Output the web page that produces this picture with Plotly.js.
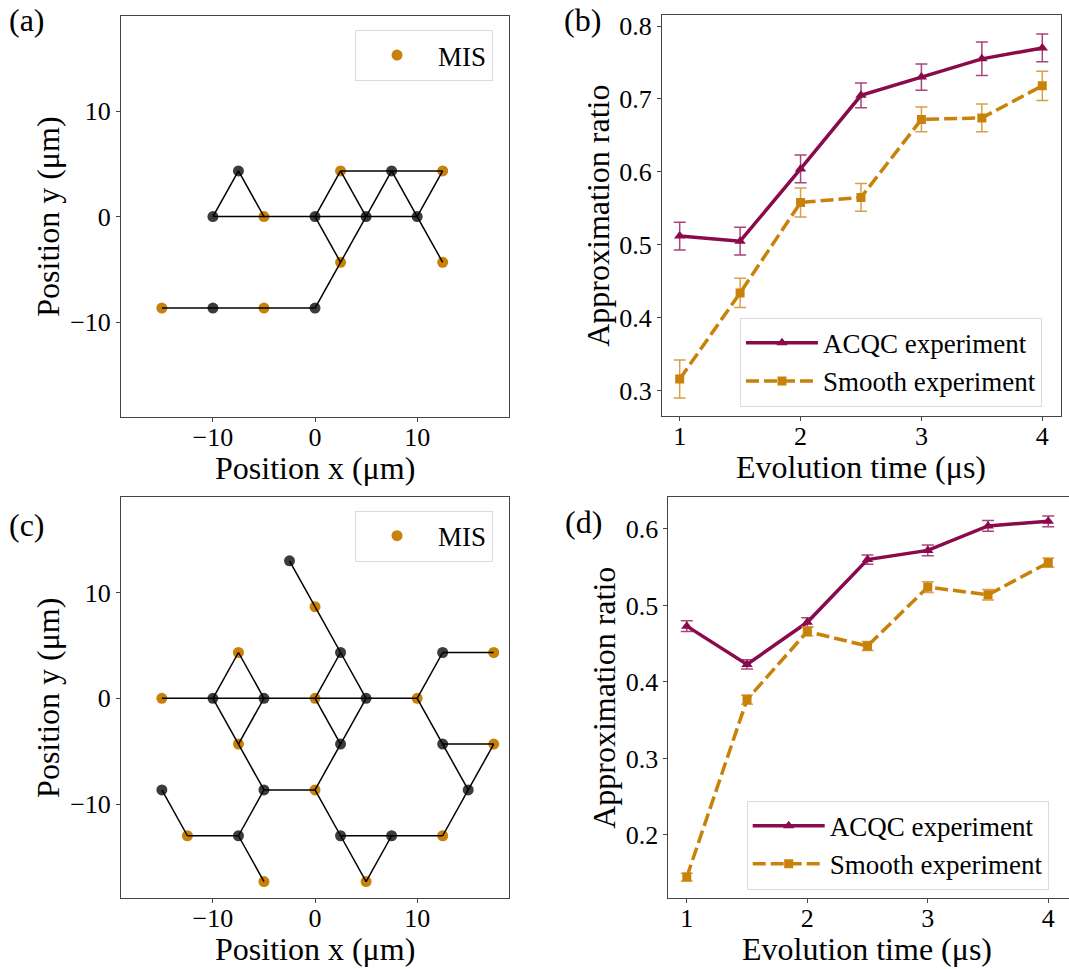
<!DOCTYPE html>
<html><head><meta charset="utf-8">
<script src="https://cdn.plot.ly/plotly-3.0.1.min.js"></script>
<style>body{margin:0;background:#fff}#g{width:1069px;height:969px}</style>
</head><body><div id="g"></div><script>
// ---- Panel (a) graph ----
const nodesA_x = [-15,-10,-5,0,-10,-7.5,-5,0,2.5,5,7.5,10,12.5,2.5,12.5];
const nodesA_y = [-8.66,-8.66,-8.66,-8.66,0,4.33,0,0,4.33,0,4.33,0,4.33,-4.33,-4.33];
const misA     = [1,0,1,0,0,0,1,0,1,0,0,0,1,1,1];
const edgesA = [[0,1],[1,2],[2,3],[3,13],[13,7],[13,9],[4,5],[5,6],[4,6],[6,7],[7,9],[9,11],
                [7,8],[8,9],[9,10],[10,11],[11,12],[8,10],[10,12],[11,14]];
// ---- Panel (c) graph ----
const nodesC_x = [-2.5,0,2.5,-7.5,12.5,17.5,-15,-10,-5,0,5,10,-7.5,2.5,12.5,17.5,-15,-5,0,15,-12.5,-7.5,2.5,7.5,12.5,-5,5];
const nodesC_y = [12.99,8.66,4.33,4.33,4.33,4.33,0,0,0,0,0,0,-4.33,-4.33,-4.33,-4.33,-8.66,-8.66,-8.66,-8.66,-12.99,-12.99,-12.99,-12.99,-12.99,-17.32,-17.32];
const misC     = [0,1,0,1,0,1,1,0,0,1,0,1,1,0,0,1,0,0,1,0,1,0,0,0,1,1,1];
const edgesC = [[0,1],[1,2],[2,9],[2,10],[6,7],[7,8],[8,9],[9,10],[10,11],
                [7,3],[3,8],[7,12],[12,8],[12,17],[9,13],[13,10],[13,18],[17,18],[17,21],
                [16,20],[20,21],[21,25],[18,22],[22,23],[23,24],[22,26],[26,23],
                [11,4],[4,5],[11,14],[14,15],[14,19],[19,15],[19,24]];
// ---- Panel (b) data ----
const timeB = [1,1.5,2,2.5,3,3.5,4];
const acqcB = [0.512,0.505,0.604,0.705,0.730,0.755,0.770];
const acqcB_err = [0.019,0.019,0.019,0.017,0.018,0.023,0.019];
const smoothB = [0.316,0.434,0.558,0.565,0.672,0.674,0.718];
const smoothB_err = [0.026,0.020,0.020,0.019,0.017,0.019,0.020];
// ---- Panel (d) data ----
const timeD = [1,1.5,2,2.5,3,3.5,4];
const acqcD = [0.473,0.423,0.478,0.560,0.572,0.604,0.610];
const acqcD_err = [0.007,0.006,0.006,0.006,0.007,0.007,0.007];
const smoothD = [0.145,0.377,0.466,0.447,0.524,0.514,0.556];
const smoothD_err = [0.005,0.006,0.006,0.006,0.007,0.007,0.006];

const ORANGE = '#c8820a', GRAY = '#3c3c3c', MAROON = '#8a0a4c';
const FONT = 'Liberation Serif, Times New Roman, serif';

function graphTraces(nx, ny, mis, edges, xa, ya, leg) {
  const ex = [], ey = [];
  edges.forEach(([i, j]) => { ex.push(nx[i], nx[j], null); ey.push(ny[i], ny[j], null); });
  const gx = nx.filter((_, i) => !mis[i]), gy = ny.filter((_, i) => !mis[i]);
  const ox = nx.filter((_, i) => mis[i]),  oy = ny.filter((_, i) => mis[i]);
  return [
    {x: gx, y: gy, xaxis: xa, yaxis: ya, mode: 'markers', type: 'scatter', showlegend: false,
     marker: {color: GRAY, size: 11}},
    {x: ox, y: oy, xaxis: xa, yaxis: ya, mode: 'markers', type: 'scatter', name: 'MIS', legend: leg,
     marker: {color: ORANGE, size: 11}},
    {x: ex, y: ey, xaxis: xa, yaxis: ya, mode: 'lines', type: 'scatter', showlegend: false,
     line: {color: '#000', width: 1.5}}
  ];
}
function seriesTraces(t, a, ae, s, se, xa, ya, leg) {
  return [
    {x: t, y: a, xaxis: xa, yaxis: ya, type: 'scatter', mode: 'lines+markers', name: 'ACQC experiment', legend: leg,
     line: {color: MAROON, width: 3.5}, marker: {symbol: 'triangle-up', size: 10, color: MAROON},
     error_y: {type: 'data', array: ae, visible: true, color: '#a8457a', thickness: 1.5, width: 6}},
    {x: t, y: s, xaxis: xa, yaxis: ya, type: 'scatter', mode: 'lines+markers', name: 'Smooth experiment', legend: leg,
     line: {color: ORANGE, width: 3.5, dash: '13px,5px'}, marker: {symbol: 'square', size: 9, color: ORANGE},
     error_y: {type: 'data', array: se, visible: true, color: '#d9a04a', thickness: 1.5, width: 6}}
  ];
}

const data = [
  ...graphTraces(nodesA_x, nodesA_y, misA, edgesA, 'x', 'y', 'legend'),
  ...seriesTraces(timeB, acqcB, acqcB_err, smoothB, smoothB_err, 'x2', 'y2', 'legend2'),
  ...graphTraces(nodesC_x, nodesC_y, misC, edgesC, 'x3', 'y3', 'legend3'),
  ...seriesTraces(timeD, acqcD, acqcD_err, smoothD, smoothD_err, 'x4', 'y4', 'legend4')
];

const tickFont = {family: FONT, size: 26, color: '#000'};
const titleFont = {family: FONT, size: 32, color: '#000'};
function ax(extra) {
  return Object.assign({showline: true, mirror: true, linecolor: '#444', linewidth: 1,
    ticks: 'outside', ticklen: 4, tickcolor: '#444', showgrid: false, zeroline: false,
    tickfont: tickFont, automargin: false}, extra);
}
function xax(extra) { return ax(Object.assign({ticklabelstandoff: -7}, extra)); }
const legendBase = {bgcolor: 'rgba(255,255,255,0.8)', bordercolor: '#dcdcdc', borderwidth: 1,
  font: {family: FONT, size: 27, color: '#000'}, xanchor: 'left', yanchor: 'top', itemwidth: 72};

const xTitles = [
  {text: 'Position x (μm)', x: 315, y: 468},
  {text: 'Evolution time (μs)', x: 861, y: 467},
  {text: 'Position x (μm)', x: 315, y: 949},
  {text: 'Evolution time (μs)', x: 867, y: 949}
];

const layout = {
  width: 1069, height: 969, margin: {l: 0, r: 0, t: 0, b: 0},
  paper_bgcolor: '#fff', plot_bgcolor: '#fff',
  xaxis: xax({domain: [0.1132, 0.4762], range: [-19, 19], tickvals: [-10, 0, 10], anchor: 'y'}),
  yaxis: ax({domain: [0.5694, 0.9835], range: [-19, 19], tickvals: [-10, 0, 10], anchor: 'x',
    title: {text: 'Position y (μm)', font: titleFont, standoff: 0}}),
  xaxis2: xax({domain: [0.6193, 0.9922], range: [0.854, 4.152], tickvals: [1, 2, 3, 4], anchor: 'y2'}),
  yaxis2: ax({domain: [0.5707, 0.9842], range: [0.2653, 0.8147], tickvals: [0.3,0.4,0.5,0.6,0.7,0.8], ticktext: ['0.3','0.4','0.5','0.6','0.7','0.8'], anchor: 'x2',
    title: {text: 'Approximation ratio', font: titleFont, standoff: 0}}),
  xaxis3: xax({domain: [0.1132, 0.4762], range: [-19, 19], tickvals: [-10, 0, 10], anchor: 'y3'}),
  yaxis3: ax({domain: [0.0730, 0.4868], range: [-18.9, 19.0], tickvals: [-10, 0, 10], anchor: 'x3',
    title: {text: 'Position y (μm)', font: titleFont, standoff: 0}}),
  xaxis4: xax({domain: [0.6252, 1.0], range: [0.847, 4.172], tickvals: [1, 2, 3, 4], anchor: 'y4'}),
  yaxis4: ax({domain: [0.0730, 0.4868], range: [0.1173, 0.6414], tickvals: [0.2,0.3,0.4,0.5,0.6], ticktext: ['0.2','0.3','0.4','0.5','0.6'], anchor: 'x4', mirror: false,
    title: {text: 'Approximation ratio', font: titleFont, standoff: 0}}),
  legend:  Object.assign({}, legendBase, {x: 0.3321, y: 0.969}),
  legend2: Object.assign({}, legendBase, {x: 0.6922, y: 0.6721}),
  legend3: Object.assign({}, legendBase, {x: 0.3321, y: 0.473}),
  legend4: Object.assign({}, legendBase, {x: 0.6985, y: 0.1737}),
  annotations: [
    ...[
      {text: '(a)', x: 7/1069, y: 1},
      {text: '(b)', x: 562/1069, y: 1},
      {text: '(c)', x: 7/1069, y: 1 - 505/969},
      {text: '(d)', x: 563/1069, y: 1 - 502/969}
    ].map(a => Object.assign({xref: 'paper', yref: 'paper', xanchor: 'left', yanchor: 'top',
      showarrow: false, font: {family: FONT, size: 32, color: '#000'}}, a)),
    ...xTitles.map(t => ({text: t.text, x: t.x / 1069, y: 1 - t.y / 969, xref: 'paper', yref: 'paper',
      xanchor: 'center', yanchor: 'middle', showarrow: false, font: titleFont, borderpad: 0}))
  ]
};

Plotly.newPlot('g', data, layout, {staticPlot: true, displayModeBar: false});
</script></body></html>
